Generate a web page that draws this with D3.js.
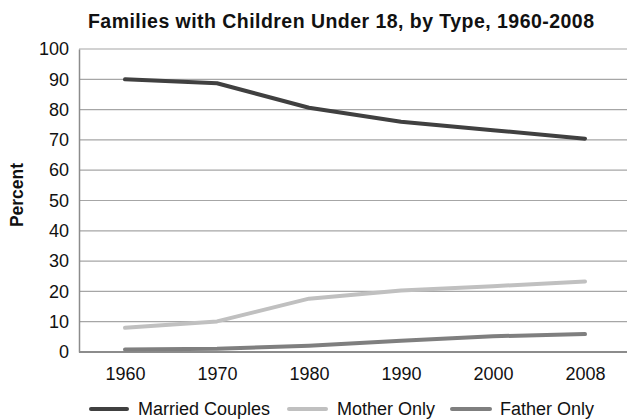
<!DOCTYPE html>
<html>
<head>
<meta charset="utf-8">
<script src="https://cdn.jsdelivr.net/npm/d3@7"></script>
<style>
  html, body { margin: 0; padding: 0; background: #fff; }
  svg { display: block; font-family: "Liberation Sans", Arial, Helvetica, sans-serif; }
</style>
</head>
<body>
<svg id="chart" width="627" height="419"></svg>
<script>
// Share of families with children under 18, by family type (percent)
const years = ["1960", "1970", "1980", "1990", "2000", "2008"];
const marriedCouples = [90.0, 88.7, 80.6, 76.0, 73.2, 70.4];
const motherOnly = [8.0, 10.1, 17.6, 20.3, 21.7, 23.3];
const fatherOnly = [0.8, 1.1, 2.1, 3.7, 5.2, 5.9];
const yTicks = [0, 10, 20, 30, 40, 50, 60, 70, 80, 90, 100];

const seriesNames = ["Married Couples", "Mother Only", "Father Only"];
const seriesColors = ["#404040", "#c0c0c0", "#7f7f7f"];
const series = [marriedCouples, motherOnly, fatherOnly].map((values, i) => ({
  name: seriesNames[i],
  color: seriesColors[i],
  points: years.map((y, j) => ({ year: y, value: values[j] }))
}));

const svg = d3.select("#chart");
const W = 627;
const plot = { left: 79, right: 631, top: 49, bottom: 352 };

const x = d3.scalePoint().domain(years).range([plot.left, plot.right]).padding(0.5);
const y = d3.scaleLinear().domain([0, 100]).range([plot.bottom, plot.top]);

// Title
svg.append("text")
  .attr("x", 341).attr("y", 28)
  .attr("text-anchor", "middle")
  .attr("font-size", 19.5).attr("font-weight", "bold")
  .attr("textLength", 506).attr("lengthAdjust", "spacing")
  .attr("fill", "#111")
  .text("Families with Children Under 18, by Type, 1960-2008");

// Horizontal gridlines
svg.append("g")
  .selectAll("line")
  .data(yTicks.filter(t => t > 0))
  .join("line")
  .attr("x1", plot.left).attr("x2", W)
  .attr("y1", d => y(d)).attr("y2", d => y(d))
  .attr("stroke", "#a6a6a6").attr("stroke-width", 1.2);

// Y axis
const yAxis = svg.append("g")
  .attr("transform", `translate(${plot.left},0)`)
  .call(d3.axisLeft(y).tickValues(yTicks).tickSize(0).tickPadding(10));
yAxis.select(".domain").attr("stroke", "#8c8c8c").attr("stroke-width", 1.5);
yAxis.selectAll("text").attr("font-size", 18).attr("fill", "#111")
  .attr("font-family", "'Liberation Sans', Arial, sans-serif");

// X axis
const xAxis = svg.append("g")
  .attr("transform", `translate(0,${plot.bottom})`)
  .call(d3.axisBottom(x).tickSize(0).tickPadding(15));
xAxis.select(".domain").attr("d", `M${plot.left},0H${W}`)
  .attr("stroke", "#8c8c8c").attr("stroke-width", 2);
xAxis.selectAll("text").attr("font-size", 18).attr("fill", "#111")
  .attr("font-family", "'Liberation Sans', Arial, sans-serif");

// Y axis title
svg.append("text")
  .attr("transform", "translate(23,195) rotate(-90)")
  .attr("text-anchor", "middle")
  .attr("font-size", 17.5).attr("font-weight", "bold")
  .attr("fill", "#111")
  .text("Percent");

// Lines
const line = d3.line().x(d => x(d.year)).y(d => y(d.value));
svg.append("g")
  .selectAll("path")
  .data(series)
  .join("path")
  .attr("d", d => line(d.points))
  .attr("fill", "none")
  .attr("stroke", d => d.color)
  .attr("stroke-width", 4)
  .attr("stroke-linecap", "round")
  .attr("stroke-linejoin", "round");

// Legend
const legendY = 409;
const legendItems = [
  { x0: 91, x1: 127, tx: 138 },
  { x0: 289, x1: 326, tx: 337 },
  { x0: 452, x1: 490, tx: 500 }
];
const legend = svg.append("g");
series.forEach((s, i) => {
  const p = legendItems[i];
  legend.append("line")
    .attr("x1", p.x0).attr("x2", p.x1)
    .attr("y1", legendY).attr("y2", legendY)
    .attr("stroke", s.color).attr("stroke-width", 4)
    .attr("stroke-linecap", "round");
  legend.append("text")
    .attr("x", p.tx).attr("y", 415)
    .attr("font-size", 18).attr("fill", "#111")
    .text(s.name);
});
</script>
</body>
</html>
